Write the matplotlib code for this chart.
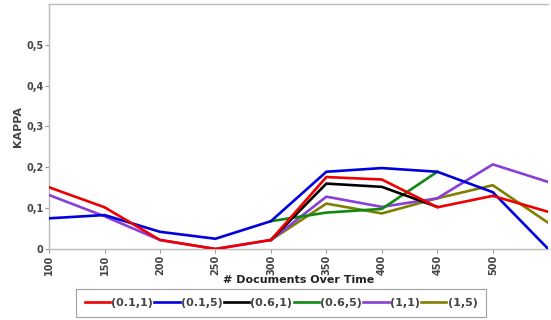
import numpy as np
import matplotlib
matplotlib.use("Agg")
import matplotlib.pyplot as plt
from matplotlib.ticker import FuncFormatter

x = [100, 150, 200, 250, 300, 350, 400, 450, 500, 550]
nan = np.nan
series = {
    "(0.1,1)": [0.151, 0.102, 0.022, 0.0, 0.022, 0.176, 0.170, 0.102, 0.130, 0.091],
    "(0.1,5)": [0.075, 0.083, 0.042, 0.025, 0.068, 0.189, 0.198, 0.189, 0.139, 0.0],
    "(0.6,1)": [nan, nan, nan, nan, 0.022, 0.160, 0.152, 0.103, nan, nan],
    "(0.6,5)": [nan, nan, nan, nan, 0.068, 0.089, 0.098, 0.189, nan, nan],
    "(1,1)":   [0.132, 0.080, 0.022, 0.0, 0.022, 0.128, 0.103, 0.124, 0.207, 0.164],
    "(1,5)":   [nan, nan, nan, nan, 0.022, 0.111, 0.087, 0.124, 0.156, 0.064],
}
colors = ["#ee0000", "#0000dd", "#000000", "#118811", "#8a3fd8", "#808000"]
yticks = [0, 0.1, 0.2, 0.3, 0.4, 0.5]
xticks = [100, 150, 200, 250, 300, 350, 400, 450, 500]

fig = plt.figure(figsize=(5.51, 3.2), dpi=100)
ax = fig.add_axes([0.089, 0.222, 0.906, 0.766])
n = len(series)
for i, ((name, vals), c) in enumerate(zip(series.items(), colors)):
    ax.plot(x, vals, color=c, lw=1.9, label=name, zorder=10 + (n - i),
            solid_joinstyle="miter")

ax.set_xlim(100, 550)
ax.set_ylim(0, 0.6)
ax.set_xticks(xticks)
ax.set_yticks(yticks)
ax.yaxis.set_major_formatter(FuncFormatter(lambda v, p: "0" if v == 0 else f"{v:.1f}".replace(".", ",")))
tc = "#444444"
for lab in ax.get_xticklabels():
    lab.set_rotation(90)
for lab in ax.get_xticklabels() + ax.get_yticklabels():
    lab.set_fontweight("bold")
    lab.set_fontsize(7)
    lab.set_color(tc)
ax.tick_params(axis="both", length=3, width=0.8, color="#999999", pad=1)
for s in ["left", "bottom", "top"]:
    ax.spines[s].set_color("#bbbbbb")
    ax.spines[s].set_linewidth(1.0)
ax.spines["right"].set_visible(False)
ax.set_xlabel("# Documents Over Time", fontsize=8, fontweight="bold", color="#222222", labelpad=0)
ax.set_ylabel("KAPPA", fontsize=8, fontweight="bold", color=tc, labelpad=2)

leg = fig.legend(loc="center", bbox_to_anchor=(0.51, 0.052), ncol=6, frameon=True,
                 fancybox=False, handlelength=2.3, handletextpad=0.1, columnspacing=0.1,
                 borderpad=0.8, prop={"weight": "bold", "size": 8})
leg.get_frame().set_edgecolor("#888888")
leg.get_frame().set_linewidth(0.8)
for t in leg.get_texts():
    t.set_color(tc)

fig.savefig("out.png", dpi=100)
